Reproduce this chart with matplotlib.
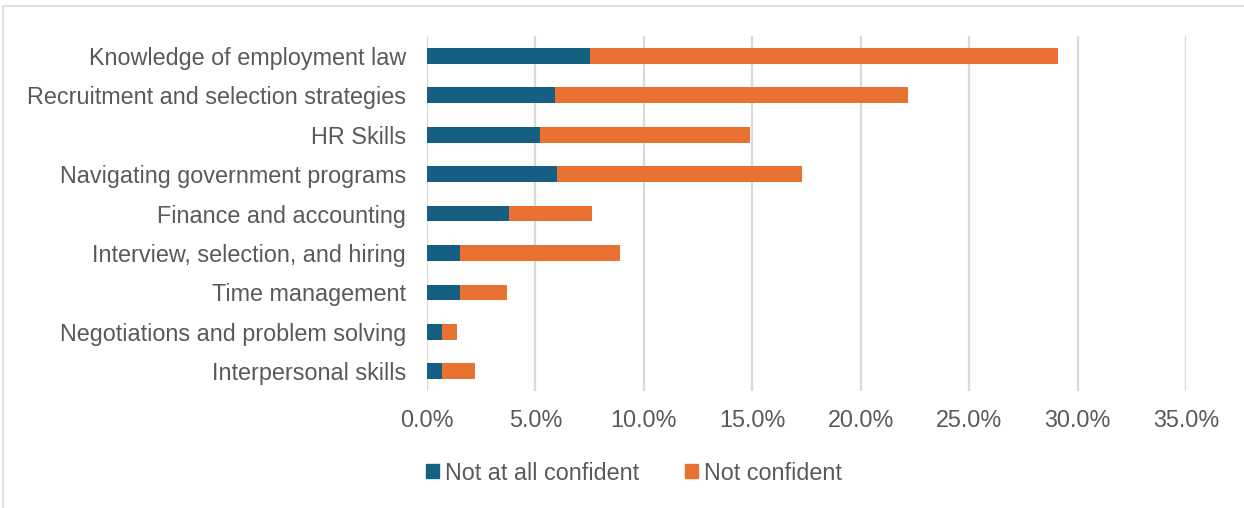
import matplotlib.pyplot as plt
from matplotlib.patches import Rectangle, Patch
from matplotlib.ticker import PercentFormatter
import numpy as np

categories = [
    'Knowledge of employment law',
    'Recruitment and selection strategies',
    'HR Skills',
    'Navigating government programs',
    'Finance and accounting',
    'Interview, selection, and hiring',
    'Time management',
    'Negotiations and problem solving',
    'Interpersonal skills',
]
not_at_all = [7.5, 5.9, 5.2, 6.0, 3.8, 1.5, 1.5, 0.7, 0.7]
not_confident = [21.6, 16.3, 9.7, 11.3, 3.8, 7.4, 2.2, 0.7, 1.5]
x_ticks = [0, 5, 10, 15, 20, 25, 30, 35]

plt.rcParams['font.family'] = ['Liberation Sans', 'DejaVu Sans']
text_color = '#595959'
blue = '#156082'
orange = '#E97132'
fs = 16.8

fig = plt.figure(figsize=(12.44, 5.08), dpi=100)
ax = fig.add_axes([427 / 1244, 1 - 391 / 508, (1186 - 427) / 1244, (391 - 36) / 508])

y = np.arange(len(categories))
ax.barh(y, not_at_all, height=0.4, color=blue, zorder=3)
ax.barh(y, not_confident, left=not_at_all, height=0.4, color=orange, zorder=3)

ax.set_xlim(0, 35)
ax.set_ylim(len(categories) - 0.5, -0.5)
ax.set_xticks(x_ticks)
ax.xaxis.set_major_formatter(PercentFormatter(decimals=1))
ax.set_yticks(y)
ax.set_yticklabels(categories)
ax.tick_params(axis='both', length=0, labelsize=fs, colors=text_color)
ax.tick_params(axis='y', pad=15)
ax.tick_params(axis='x', pad=13)
ax.grid(axis='x', color='#D9D9D9', linewidth=1.6, zorder=0)
for s in ax.spines.values():
    s.set_visible(False)

# chart area border (only top/left visible in the crop)
fig.patches.append(Rectangle((3 / 1244, -0.05), 1.1, 1 - 6 / 508 + 0.05,
                             transform=fig.transFigure, fill=False,
                             edgecolor='#D9D9D9', linewidth=1.2))

handles = [Patch(color=blue, label='Not at all confident'),
           Patch(color=orange, label='Not confident')]
fig.legend(handles=handles, loc='center', bbox_to_anchor=(634 / 1244, 1 - 473 / 508),
           ncol=2, frameon=False, fontsize=fs, labelcolor=text_color,
           handlelength=0.55, handleheight=0.55, handletextpad=0.25, columnspacing=2.0)

fig.savefig('out.png', dpi=100)
